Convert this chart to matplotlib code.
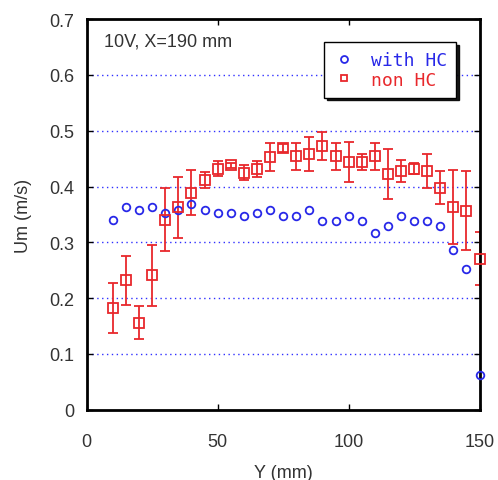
import matplotlib
matplotlib.use("Agg")
import matplotlib.pyplot as plt

# measurement positions (mm)
y_pos = [10, 15, 20, 25, 30, 35, 40, 45, 50, 55, 60, 65, 70, 75, 80, 85,
         90, 95, 100, 105, 110, 115, 120, 125, 130, 135, 140, 145, 150]

# with HC
um_hc = [0.340, 0.364, 0.358, 0.364, 0.353, 0.358, 0.369, 0.358, 0.353, 0.353,
         0.347, 0.353, 0.358, 0.347, 0.347, 0.358, 0.338, 0.338, 0.347, 0.338,
         0.317, 0.329, 0.347, 0.338, 0.338, 0.329, 0.287, 0.253, 0.062]

# non HC, with error
um_non = [0.183, 0.232, 0.156, 0.241, 0.341, 0.363, 0.389, 0.412, 0.432, 0.438,
          0.425, 0.432, 0.453, 0.469, 0.454, 0.458, 0.473, 0.454, 0.444, 0.444,
          0.454, 0.423, 0.428, 0.432, 0.428, 0.398, 0.363, 0.357, 0.271]
err_non = [0.045, 0.044, 0.030, 0.055, 0.056, 0.055, 0.040, 0.015, 0.013, 0.005,
           0.014, 0.014, 0.025, 0.007, 0.025, 0.030, 0.025, 0.025, 0.036, 0.014,
           0.025, 0.045, 0.020, 0.010, 0.030, 0.030, 0.066, 0.071, 0.047]

plt.rcParams['font.family'] = 'Liberation Sans'
txt = '#333333'

fig = plt.figure(figsize=(4.98, 4.81), dpi=100)
ax = fig.add_axes([0.174, 0.146, 0.789, 0.812])

for yv in [0.1, 0.2, 0.3, 0.4, 0.5, 0.6]:
    ax.axhline(yv, color='#3030ff', lw=1.0, ls=(0, (1, 2.5)), zorder=0)

ax.errorbar(y_pos, um_non, yerr=err_non, fmt='none', ecolor='#e8282c',
            elinewidth=1.3, capsize=3.3, capthick=1.3, zorder=2)
ax.plot(y_pos, um_hc, 'o', mfc='none', mec='#2828e8', ms=5.5, mew=1.3,
        label='with HC', zorder=3, clip_on=False)
ax.plot(y_pos, um_non, 's', mfc='none', mec='#e8282c', ms=7.2, mew=1.3,
        label='non HC', zorder=3, clip_on=False)

ax.set_xlim(0, 150)
ax.set_ylim(0, 0.7)
ax.set_xticks([0, 50, 100, 150])
ax.set_yticks([0, 0.1, 0.2, 0.3, 0.4, 0.5, 0.6, 0.7])
ax.set_yticklabels(['0', '0.1', '0.2', '0.3', '0.4', '0.5', '0.6', '0.7'])
ax.tick_params(direction='in', length=4, width=1, top=True, right=True,
               labelsize=13, colors='black', labelcolor=txt)
ax.tick_params(axis='x', pad=17)
ax.tick_params(axis='y', pad=9)
for s in ax.spines.values():
    s.set_linewidth(2)

ax.set_xlabel('Y (mm)', fontsize=13, color=txt, labelpad=10)
ax.set_ylabel('Um (m/s)', fontsize=13, color=txt, labelpad=12)

ax.text(0.045, 0.945, '10V, X=190 mm', transform=ax.transAxes,
        fontsize=13, color=txt, va='center')

leg = ax.legend(loc='upper right', bbox_to_anchor=(0.94, 0.942),
                prop={'family': 'DejaVu Sans Mono', 'size': 13},
                frameon=True, fancybox=False,
                shadow={'color': 'black', 'alpha': 0.9},
                handlelength=1.2, handletextpad=0.9, borderpad=0.5,
                borderaxespad=0, labelspacing=0.1, framealpha=1)
leg.get_frame().set_edgecolor('black')
leg.get_frame().set_linewidth(1.0)
for t, c in zip(leg.get_texts(), ['#2828e8', '#e8282c']):
    t.set_color(c)
for h in leg.legend_handles:
    h.set_markersize(5)

fig.savefig('out.png', dpi=100)
